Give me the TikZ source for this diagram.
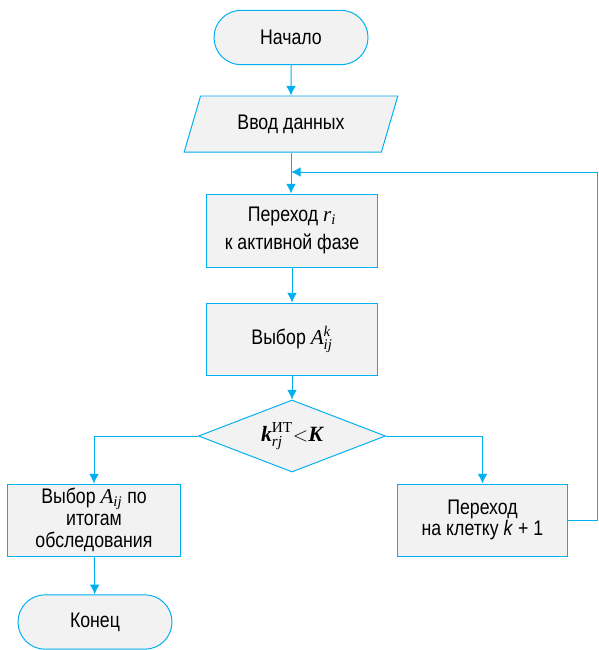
\documentclass[tikz,border=0pt]{standalone}
\usepackage{amsmath}
\usepackage{fontspec}
\setmainfont[FakeStretch=0.84]{Liberation Sans}
\newfontfamily\tnr{Liberation Serif}
\newcommand{\tv}[1]{\text{\tnr\itshape #1}}
\newcommand{\tb}[1]{\text{\tnr\bfseries\itshape #1}}
\usetikzlibrary{shapes.geometric,arrows.meta}
\definecolor{flowblue}{RGB}{0,176,240}
\definecolor{flowgray}{RGB}{242,242,242}
\begin{document}
\begin{tikzpicture}[x=0.025cm,y=-0.025cm]
        \tikzstyle{base} = [draw=flowblue,fill=flowgray,line width=.7pt,text=black,align=center,font=\fontsize{15}{15.5}\selectfont,inner sep=0pt]
        \tikzstyle{term} = [base,rectangle,rounded corners=.68cm,minimum width=3.85cm,minimum height=1.36cm]
        \tikzstyle{io} = [base,trapezium,trapezium left angle=62.6,trapezium right angle=117.4,trapezium stretches=true,minimum width=5.35cm,minimum height=1.4cm]
        \tikzstyle{block} = [base,rectangle,minimum height=1.8cm]
        \tikzstyle{decide} = [base,shape=diamond,aspect=2.6,minimum width=4.675cm,minimum height=1.8cm]
        \tikzstyle{line} = [-{Latex[length=2.4mm,width=2.4mm]},draw=flowblue,line width=.7pt]
        \useasboundingbox (0,0) rectangle (598,650);
        \node[term] (start) at (291,37.5) {Начало};
        \node[io] (input) at (291,124) {Ввод данных};
        \node[block,minimum width=4.25cm,minimum height=1.825cm] (phase) at (292,230.5) {Переход $\tv{r}_{\tv{i}}$\\[5pt]к активной фазе};
        \node[block,minimum width=4.25cm] (pick) at (292,339) {Выбор $\tv{A}_{\tv{ij}}^{\tv{k}}$};
        \node[decide,font=\fontsize{15.5}{17}\selectfont] (check) at (292,436) {$\tb{k}^{\text{\tnr ИТ}}_{\tv{rj}}{<}\tb{K}$};
        \node[block,minimum width=4.3cm] (result) at (94,520) {Выбор $\tv{A}_{\tv{ij}}$ по\\итогам\\обследования};
        \node[block,minimum width=4.225cm] (next) at (482.5,520) {Переход\\на клетку \textit{k} + 1};
        \node[term] (stop) at (95,622) {Конец};
        \coordinate (edge) at (597,172);
        \coordinate (join) at (291,172);
        \draw[line] (start) to (input);
        \draw[line] (input.south) to (phase.north -| input.south);
        \draw[line] (phase) to (pick);
        \draw[line] (pick) to (check);
        \draw[line] (check.west) -| (result.north);
        \draw[line] (check.east) -| (next.north);
        \draw[line] (result) to (stop);
        \draw[line] (next.east) -- (next.east -| edge) -- (edge) -- (join);
    \end{tikzpicture}
\end{document}
